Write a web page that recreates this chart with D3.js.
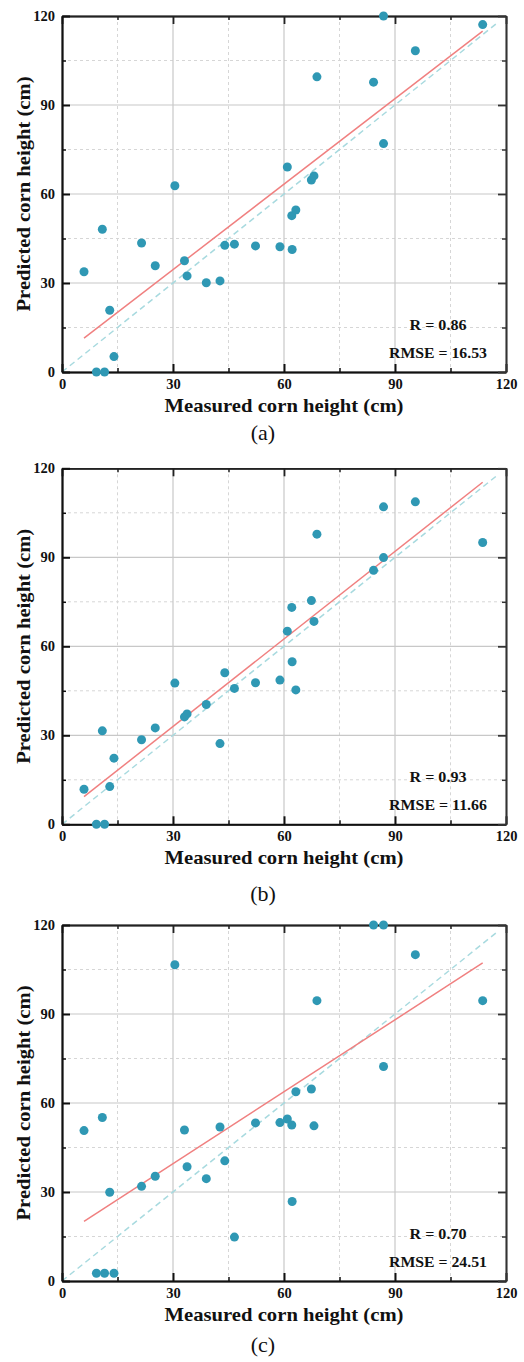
<!DOCTYPE html>
<html><head><meta charset="utf-8">
<script src="https://cdn.jsdelivr.net/npm/d3@7"></script>
<style>body{margin:0;background:#fff} svg{display:block}</style>
</head><body><svg id="chart" width="524" height="1362"></svg>
<script>
// ---- data ----
const measured   = [5.95, 9.3, 10.9, 11.5, 12.9, 14.05, 21.5, 25.2, 30.5, 33.1, 33.8, 39.0, 42.7, 44.0, 46.6, 52.3, 58.9, 60.9, 62.1, 62.2, 63.2, 67.4, 68.1, 68.9, 84.2, 86.9, 86.9, 95.5, 113.7];
const predictedA = [33.8, 0, 48.1, 0, 20.8, 5.2, 43.5, 35.8, 62.8, 37.5, 32.4, 30.1, 30.7, 42.7, 43.1, 42.5, 42.2, 69.1, 52.7, 41.3, 54.6, 64.7, 66.1, 99.5, 97.7, 120, 77.0, 108.3, 117.1];
const predictedB = [11.8, 0, 31.5, 0, 12.7, 22.3, 28.5, 32.5, 47.6, 36.2, 37.2, 40.4, 27.2, 51.1, 45.8, 47.7, 48.6, 65.1, 73.1, 54.8, 45.3, 75.4, 68.4, 97.8, 85.6, 107.0, 89.9, 108.7, 95.0];
const predictedC = [50.7, 2.6, 55.1, 2.6, 29.9, 2.6, 31.9, 35.3, 106.6, 50.9, 38.5, 34.5, 51.9, 40.5, 14.8, 53.3, 53.4, 54.6, 52.6, 26.8, 63.8, 64.7, 52.3, 94.5, 120, 120, 72.3, 110.0, 94.5];
// fitted line values at min and max measured height
const fitA = [11.4, 114.9];
const fitB = [9.3, 115.3];
const fitC = [20.1, 107.2];
const identityLine = [0, 118];
const rLabels    = ["R = 0.86", "R = 0.93", "R = 0.70"];
const rmseLabels = ["RMSE = 16.53", "RMSE = 11.66", "RMSE = 24.51"];
const panelLabels = ["(a)", "(b)", "(c)"];
const majorTicks = [0, 30, 60, 90, 120];
const minorTicks = [15, 45, 75, 105];
const gridMajor = [30, 60, 90];
const xTitle = "Measured corn height (cm)";
const yTitle = "Predicted corn height (cm)";

// ---- layout ----
const panels = [
  {pred: predictedA, fit: fitA, top: 16,    bottom: 372,  labelY: 440},
  {pred: predictedB, fit: fitB, top: 468.3, bottom: 824.3, labelY: 901},
  {pred: predictedC, fit: fitC, top: 925,   bottom: 1281, labelY: 1352}
];
const L = 62, R = 506;
const font = "'Liberation Serif', 'Times New Roman', serif";
const svg = d3.select("#chart");

panels.forEach((p, i) => {
  const x = d3.scaleLinear().domain([0, 120]).range([L, R]);
  const y = d3.scaleLinear().domain([0, 120]).range([p.bottom, p.top]);
  const g = svg.append("g");

  // minor grid (dashed)
  g.selectAll(".vminor").data(minorTicks).join("line")
    .attr("x1", d => x(d)).attr("x2", d => x(d)).attr("y1", p.top).attr("y2", p.bottom)
    .attr("stroke", "#d6d6d6").attr("stroke-width", 1).attr("stroke-dasharray", "3,3");
  g.selectAll(".hminor").data(minorTicks).join("line")
    .attr("y1", d => y(d)).attr("y2", d => y(d)).attr("x1", L).attr("x2", R)
    .attr("stroke", "#d6d6d6").attr("stroke-width", 1).attr("stroke-dasharray", "3,3");
  // major grid
  g.selectAll(".vmajor").data(gridMajor).join("line")
    .attr("x1", d => x(d)).attr("x2", d => x(d)).attr("y1", p.top).attr("y2", p.bottom)
    .attr("stroke", "#c8c8c8").attr("stroke-width", 1.2);
  g.selectAll(".hmajor").data(gridMajor).join("line")
    .attr("y1", d => y(d)).attr("y2", d => y(d)).attr("x1", L).attr("x2", R)
    .attr("stroke", "#c8c8c8").attr("stroke-width", 1.2);

  // 1:1 line
  g.append("path")
    .datum(identityLine.map(v => [v, v]))
    .attr("d", d3.line().x(d => x(d[0])).y(d => y(d[1])))
    .attr("fill", "none").attr("stroke", "#a8dadf").attr("stroke-width", 1.5)
    .attr("stroke-dasharray", "6,4");

  // fitted line
  const xmin = d3.min(measured), xmax = d3.max(measured);
  g.append("path")
    .datum([[xmin, p.fit[0]], [xmax, p.fit[1]]])
    .attr("d", d3.line().x(d => x(d[0])).y(d => y(d[1])))
    .attr("fill", "none").attr("stroke", "#f08080").attr("stroke-width", 1.5);

  // axes
  const styleAxis = (sel, color, w) => {
    sel.select(".domain").attr("stroke", color).attr("stroke-width", w);
    sel.selectAll(".tick line").attr("stroke", color).attr("stroke-width", w);
    sel.selectAll("text").attr("font-family", font).attr("font-size", 14.5)
      .attr("font-weight", "bold").attr("fill", "#111");
  };
  // bottom
  g.append("g").attr("transform", `translate(0,${p.bottom})`)
    .call(d3.axisBottom(x).tickValues(minorTicks).tickSize(-4).tickSizeOuter(0).tickFormat(""))
    .call(s => styleAxis(s, "#111", 1.5));
  g.append("g").attr("transform", `translate(0,${p.bottom})`)
    .call(d3.axisBottom(x).tickValues(majorTicks).tickSize(-8).tickSizeOuter(0).tickPadding(6.5))
    .call(s => styleAxis(s, "#111", 2));
  // top
  g.append("g").attr("transform", `translate(0,${p.top})`)
    .call(d3.axisTop(x).tickValues(minorTicks).tickSize(-4).tickSizeOuter(0).tickFormat(""))
    .call(s => styleAxis(s, "#222", 1.5));
  g.append("g").attr("transform", `translate(0,${p.top})`)
    .call(d3.axisTop(x).tickValues(majorTicks).tickSize(-8).tickSizeOuter(0).tickFormat(""))
    .call(s => styleAxis(s, "#222", 1.8));
  // right
  g.append("g").attr("transform", `translate(${R},0)`)
    .call(d3.axisRight(y).tickValues(minorTicks).tickSize(-4).tickSizeOuter(0).tickFormat(""))
    .call(s => styleAxis(s, "#333", 1.5));
  g.append("g").attr("transform", `translate(${R},0)`)
    .call(d3.axisRight(y).tickValues(majorTicks).tickSize(-8).tickSizeOuter(0).tickFormat(""))
    .call(s => styleAxis(s, "#333", 1.8));
  // left
  g.append("g").attr("transform", `translate(${L},0)`)
    .call(d3.axisLeft(y).tickValues(minorTicks).tickSize(-4).tickSizeOuter(0).tickFormat(""))
    .call(s => styleAxis(s, "#111", 1.5));
  g.append("g").attr("transform", `translate(${L},0)`)
    .call(d3.axisLeft(y).tickValues(majorTicks).tickSize(-8).tickSizeOuter(0).tickPadding(7))
    .call(s => styleAxis(s, "#111", 2));

  // points
  g.selectAll(".pt").data(measured.map((m, k) => [m, p.pred[k]])).join("circle")
    .attr("cx", d => x(d[0])).attr("cy", d => y(d[1])).attr("r", 4.5)
    .attr("fill", "#2f98b4");

  // stats
  g.append("text").attr("x", R - 68).attr("y", p.bottom - 42)
    .attr("text-anchor", "middle").attr("font-family", font).attr("font-weight", "bold")
    .attr("font-size", 15).attr("fill", "#111")
    .attr("textLength", 57).attr("lengthAdjust", "spacingAndGlyphs")
    .text(rLabels[i]);
  g.append("text").attr("x", R - 68).attr("y", p.bottom - 14.5)
    .attr("text-anchor", "middle").attr("font-family", font).attr("font-weight", "bold")
    .attr("font-size", 15).attr("fill", "#111")
    .attr("textLength", 98).attr("lengthAdjust", "spacingAndGlyphs")
    .text(rmseLabels[i]);

  // axis titles
  g.append("text").attr("x", (L + R) / 2).attr("y", p.bottom + 40)
    .attr("text-anchor", "middle").attr("font-family", font).attr("font-weight", "bold")
    .attr("font-size", 19).attr("fill", "#111")
    .attr("textLength", 239).attr("lengthAdjust", "spacingAndGlyphs")
    .text(xTitle);
  g.append("text")
    .attr("transform", `translate(30,${(p.top + p.bottom) / 2}) rotate(-90)`)
    .attr("text-anchor", "middle").attr("font-family", font).attr("font-weight", "bold")
    .attr("font-size", 19).attr("fill", "#111")
    .attr("textLength", 235).attr("lengthAdjust", "spacingAndGlyphs")
    .text(yTitle);

  // panel label
  g.append("text").attr("x", 263).attr("y", p.labelY)
    .attr("text-anchor", "middle").attr("font-family", font)
    .attr("font-size", 22).attr("fill", "#111")
    .text(panelLabels[i]);
});
</script>
</body></html>
